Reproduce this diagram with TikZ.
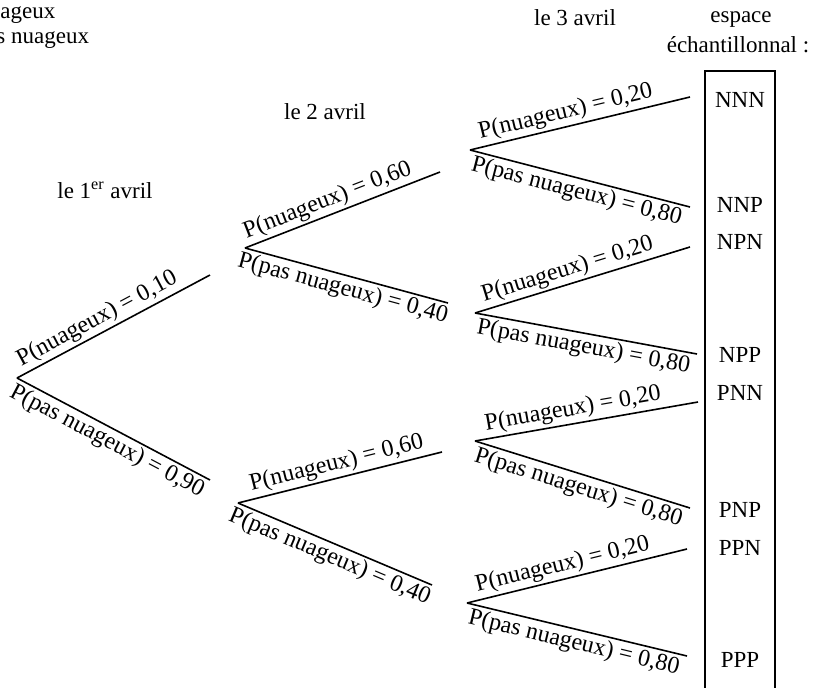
\documentclass[tikz,border=0pt]{standalone}
\usepackage{fontspec}
\setmainfont{Liberation Serif}
\begin{document}
\begin{tikzpicture}[x=0.5pt,y=-0.5pt]
  \tikzset{branch/.style={line width=0.8pt},
    prob/.style={sloped, inner sep=1.2pt, font=\fontsize{12}{14}\selectfont},
    txt/.style={font=\fontsize{11.5}{13}\selectfont, inner sep=0pt}}
  \useasboundingbox (0,0) rectangle (815,687);
  \node[txt, anchor=west] (legn) at (0,15) {ageux};
  \node[txt, anchor=west] (legp) at (-4,40) {s nuageux};
  \node[txt] (jour1) at (105,190) {le 1\textsuperscript{er} avril};
  \node[txt] (jour2) at (325,112) {le 2 avril};
  \node[txt] (jour3) at (575,18) {le 3 avril};
  \node[txt] (esp) at (741,20) {espace};
  \node[txt] (ech) at (738,45) {échantillonnal :};
  \draw[branch] (705,71) rectangle (775,700);
  \coordinate (r) at (17,378);
  \coordinate (e1n) at (210,275);
  \coordinate (e1p) at (210,480);
  \draw[branch] (r) -- node[prob, above, pos=0.45] {P(nuageux) = 0,10} (e1n);
  \draw[branch] (r) -- node[prob, below] {P(pas nuageux) = 0,90} (e1p);
  \coordinate (n) at (245,248);
  \coordinate (p) at (238,503);
  \coordinate (e2nn) at (440,172);
  \coordinate (e2np) at (448,303);
  \coordinate (e2pn) at (442,452);
  \coordinate (e2pp) at (432,585);
  \draw[branch] (n) -- node[prob, above, pos=0.45] {P(nuageux) = 0,60} (e2nn);
  \draw[branch] (n) -- node[prob, below] {P(pas nuageux) = 0,40} (e2np);
  \draw[branch] (p) -- node[prob, above, pos=0.5] {P(nuageux) = 0,60} (e2pn);
  \draw[branch] (p) -- node[prob, below] {P(pas nuageux) = 0,40} (e2pp);
  \coordinate (nn) at (470,150);
  \coordinate (np) at (475,313);
  \coordinate (pn) at (475,441);
  \coordinate (pp) at (467,603);
  \draw[branch] (nn) -- node[prob, above, pos=0.45] {P(nuageux) = 0,20} (690,97) coordinate (e3a);
  \draw[branch] (nn) -- node[prob, below] {P(pas nuageux) = 0,80} (690,207) coordinate (e3b);
  \draw[branch] (np) -- node[prob, above, pos=0.45] {P(nuageux) = 0,20} (690,247) coordinate (e3c);
  \draw[branch] (np) -- node[prob, below] {P(pas nuageux) = 0,80} (697,354) coordinate (e3d);
  \draw[branch] (pn) -- node[prob, above, pos=0.45] {P(nuageux) = 0,20} (698,402) coordinate (e3e);
  \draw[branch] (pn) -- node[prob, below] {P(pas nuageux) = 0,80} (690,508) coordinate (e3f);
  \draw[branch] (pp) -- node[prob, above, pos=0.45] {P(nuageux) = 0,20} (687,549) coordinate (e3g);
  \draw[branch] (pp) -- node[prob, below] {P(pas nuageux) = 0,80} (687,656) coordinate (e3h);
  \node[txt] (nnn) at (740,100) {NNN};
  \node[txt] (nnp) at (740,205) {NNP};
  \node[txt] (npn) at (740,242) {NPN};
  \node[txt] (npp) at (740,355) {NPP};
  \node[txt] (pnn) at (740,393) {PNN};
  \node[txt] (pnp) at (740,510) {PNP};
  \node[txt] (ppn) at (740,548) {PPN};
  \node[txt] (ppp) at (740,660) {PPP};
\end{tikzpicture}
\end{document}
